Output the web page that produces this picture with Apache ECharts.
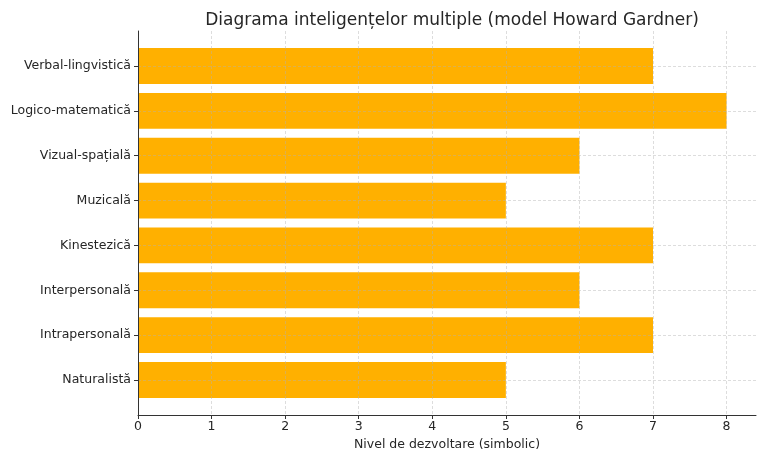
<!DOCTYPE html>
<html><head><meta charset="utf-8">
<script src="https://cdn.jsdelivr.net/npm/echarts@6/dist/echarts.min.js"></script>
<style>html,body{margin:0;padding:0;background:#fff}#c{width:768px;height:461px}</style>
</head><body><div id="c"></div>
<script>
const categories = ['Verbal-lingvistică','Logico-matematică','Vizual-spațială','Muzicală','Kinestezică','Interpersonală','Intrapersonală','Naturalistă'];
const values = [7, 8, 6, 5, 7, 6, 7, 5];
const xTicks = [0,1,2,3,4,5,6,7,8];
const titleText = 'Diagrama inteligențelor multiple (model Howard Gardner)';
const xName = 'Nivel de dezvoltare (simbolic)';

const font = 'DejaVu Sans';
const txt = '#262626';
const gridCol = 'rgba(176,176,176,0.55)';
const chart = echarts.init(document.getElementById('c'), null, {renderer:'canvas'});
chart.setOption({
  animation:false,
  backgroundColor:'#fff',
  textStyle:{fontFamily:font},
  title:{text:titleText,left:447,top:7,textAlign:'center',
    textStyle:{fontFamily:font,fontSize:17,fontWeight:'normal',color:txt}},
  grid:[
    {left:138,right:12,top:66,bottom:81},
    {left:138,right:12,top:31,bottom:46}
  ],
  xAxis:[
    {gridIndex:0,type:'value',min:0,max:8.4,show:false},
    {gridIndex:1,type:'value',min:0,max:8.4,interval:1,z:3,
     name:xName,nameLocation:'middle',nameGap:19,
     nameTextStyle:{fontFamily:font,fontSize:12.5,color:txt},
     axisLine:{show:true,lineStyle:{color:'#333',width:1}},
     axisTick:{show:true,length:4,lineStyle:{color:'#333'},customValues:xTicks},
     axisLabel:{fontFamily:font,fontSize:12.5,color:txt,margin:5,customValues:xTicks},
     splitLine:{show:true,showMinLine:false,lineStyle:{type:[3,2],color:gridCol,width:0.8}}}
  ],
  yAxis:[
    {gridIndex:0,type:'category',data:categories,inverse:true,boundaryGap:false,z:3,
     axisLine:{show:false},
     axisTick:{show:true,length:4,lineStyle:{color:'#333'}},
     axisLabel:{fontFamily:font,fontSize:12.5,color:txt,margin:7,padding:[3,0,0,0]},
     splitLine:{show:true,lineStyle:{type:[3,2],color:gridCol,width:0.8}}},
    {gridIndex:1,type:'value',min:0,max:1,z:3,
     axisLine:{show:true,lineStyle:{color:'#333',width:1}},
     axisTick:{show:false},axisLabel:{show:false},splitLine:{show:false}}
  ],
  series:[{
    type:'bar',xAxisIndex:0,yAxisIndex:0,data:values,barWidth:'80%',
    itemStyle:{color:'#FFB000'}
  }]
});
</script></body></html>
